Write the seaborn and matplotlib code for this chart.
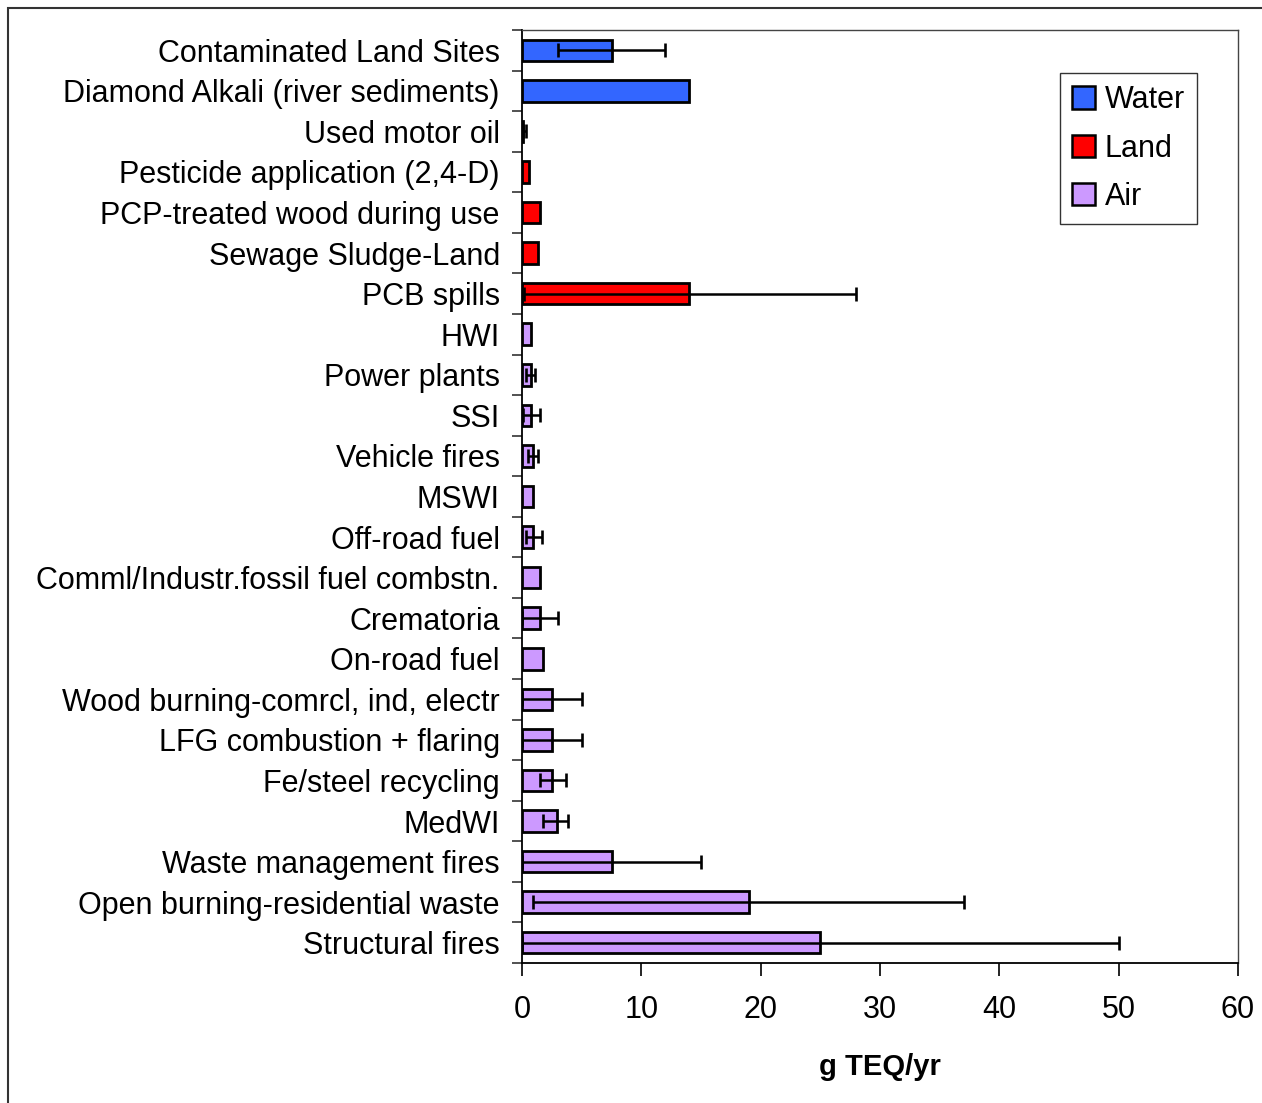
import numpy as np
import pandas as pd
import matplotlib.pyplot as plt
import seaborn as sns
from matplotlib.patches import Patch, Rectangle

sources = [
    'Contaminated Land Sites', 'Diamond Alkali (river sediments)', 'Used motor oil',
    'Pesticide application (2,4-D)', 'PCP-treated wood during use', 'Sewage Sludge-Land',
    'PCB spills', 'HWI', 'Power plants', 'SSI', 'Vehicle fires', 'MSWI', 'Off-road fuel',
    'Comml/Industr.fossil fuel combstn.', 'Crematoria', 'On-road fuel',
    'Wood burning-comrcl, ind, electr', 'LFG combustion + flaring', 'Fe/steel recycling',
    'MedWI', 'Waste management fires', 'Open burning-residential waste', 'Structural fires',
]
medium = ['Water', 'Water'] + ['Land'] * 5 + ['Air'] * 16
values = [7.5, 14.0, 0.1, 0.6, 1.5, 1.3, 14.0, 0.75, 0.75, 0.75, 0.9, 0.9, 0.9,
          1.5, 1.5, 1.8, 2.5, 2.5, 2.5, 2.9, 7.5, 19.0, 25.0]
# range of estimate (NaN = no range shown)
low = [3.0, np.nan, 0.05, np.nan, np.nan, np.nan, 0.2, np.nan, 0.33, 0.05, 0.5, np.nan, 0.3,
       np.nan, 0.0, np.nan, 0.0, 0.0, 1.5, 1.8, 0.0, 0.9, 0.0]
high = [12.0, np.nan, 0.35, np.nan, np.nan, np.nan, 28.0, np.nan, 1.1, 1.5, 1.3, np.nan, 1.7,
        np.nan, 3.0, np.nan, 5.0, 5.0, 3.7, 3.85, 15.0, 37.0, 50.0]

colors = {'Water': '#3366FF', 'Land': '#FF0000', 'Air': '#CC99FF'}

df = pd.DataFrame({'Source': sources, 'Medium': medium, 'Value': values,
                   'Low': low, 'High': high})

sns.set_style("white")
plt.rcParams['font.family'] = ['Liberation Sans', 'DejaVu Sans']
plt.rcParams['text.color'] = 'black'
plt.rcParams['axes.labelcolor'] = 'black'
plt.rcParams['xtick.color'] = 'black'
plt.rcParams['ytick.color'] = 'black'

fig = plt.figure(figsize=(12.62, 11.03), dpi=100)
ax = fig.add_axes([522 / 1262, 1 - 963 / 1103, 716 / 1262, 933 / 1103])

sns.barplot(data=df, x='Value', y='Source', hue='Medium', palette=colors,
            dodge=False, width=0.53, saturation=1, edgecolor='black', linewidth=2.0,
            legend=False, ax=ax)

err = df.dropna(subset=['Low'])
ypos = [sources.index(s) for s in err['Source']]
ax.errorbar(err['Value'], ypos,
            xerr=[err['Value'] - err['Low'], err['High'] - err['Value']],
            fmt='none', ecolor='black', elinewidth=1.8, capsize=4.7, capthick=1.9, zorder=3)

ax.set_xlim(0, 60)
ax.set_ylim(len(sources) - 0.5, -0.5)
ax.set_xticks(range(0, 61, 10))
ax.set_xlabel('g TEQ/yr', fontsize=21, fontweight='bold', labelpad=20)
ax.set_ylabel('')

ax.tick_params(axis='x', labelsize=22, length=9, width=1.2, color='black',
               direction='out', pad=14, bottom=True)
ax.tick_params(axis='y', which='major', labelsize=22, length=0, pad=16)
ax.set_yticks(np.arange(-0.5, len(sources), 1.0), minor=True)
ax.tick_params(axis='y', which='minor', length=7, width=1.2, color='#333333',
               direction='out', left=True)

for side in ['left', 'bottom']:
    ax.spines[side].set_color('black')
    ax.spines[side].set_linewidth(1.3)
for side in ['top', 'right']:
    ax.spines[side].set_color('#444444')
    ax.spines[side].set_linewidth(1.0)

handles = [Patch(facecolor=colors[m], edgecolor='black', linewidth=1.8, label=m)
           for m in ['Water', 'Land', 'Air']]
leg = ax.legend(handles=handles, loc='upper right', bbox_to_anchor=(1197 / 1262, 1 - 73 / 1103),
                bbox_transform=fig.transFigure, fontsize=22, frameon=True, fancybox=False,
                handlelength=0.75, handleheight=0.75, handletextpad=0.3, labelspacing=0.6,
                borderpad=0.4, borderaxespad=0)
leg.get_frame().set_edgecolor('black')
leg.get_frame().set_linewidth(1.0)

# outer chart-area border
fig.patches.append(Rectangle((8 / 1262, -0.05), 1.0, 1.05 - 8 / 1103, transform=fig.transFigure,
                             fill=False, edgecolor='#333333', linewidth=1.5))

fig.savefig('out.png', dpi=100)
